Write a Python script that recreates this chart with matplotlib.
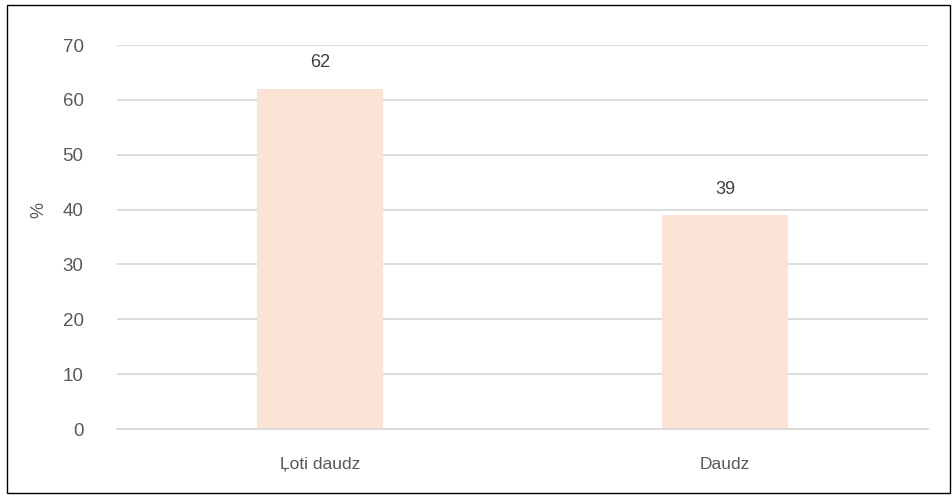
import numpy as np
import matplotlib.pyplot as plt
from matplotlib.patches import Rectangle

categories = ['Ļoti daudz', 'Daudz']
values = [62, 39]
yticks = [0, 10, 20, 30, 40, 50, 60, 70]

plt.rcParams['font.family'] = ['Liberation Sans', 'DejaVu Sans']

fig = plt.figure(figsize=(9.52, 4.97), dpi=100)
ax = fig.add_axes([117/952, 1-429/497, 811/952, (429-45)/497])

x = np.arange(len(categories))
bars = ax.bar(x, values, width=0.31, color='#FBE3D6', zorder=2)
for xi, v in zip(x, values):
    ax.text(xi, v + 3.2, str(v), ha='center', va='bottom', fontsize=13, color='#404040')

ax.set_xlim(-0.5, 1.5)
ax.set_ylim(0, 70)
ax.set_yticks(yticks)
ax.set_xticks(x)
ax.set_xticklabels(categories, fontsize=12.5)
ax.yaxis.grid(True, color='#D9D9D9', linewidth=1.3, zorder=0)
ax.set_axisbelow(True)
for s in ['top', 'right', 'left']:
    ax.spines[s].set_visible(False)
ax.spines['bottom'].set_color('#D9D9D9')
ax.spines['bottom'].set_linewidth(1.3)
ax.tick_params(axis='both', length=0, colors='#595959')
ax.tick_params(axis='y', pad=24, labelsize=13.5)
ax.tick_params(axis='x', pad=20)
ax.set_ylabel('%', fontsize=13, color='#595959')
ax.yaxis.set_label_coords(-0.086, 0.57)

# outer border
fig.patches.append(Rectangle((7/952, 4/497), 943/952, 488/497, transform=fig.transFigure,
                             fill=False, edgecolor='#000000', linewidth=1))

plt.savefig('out.png', dpi=100)
